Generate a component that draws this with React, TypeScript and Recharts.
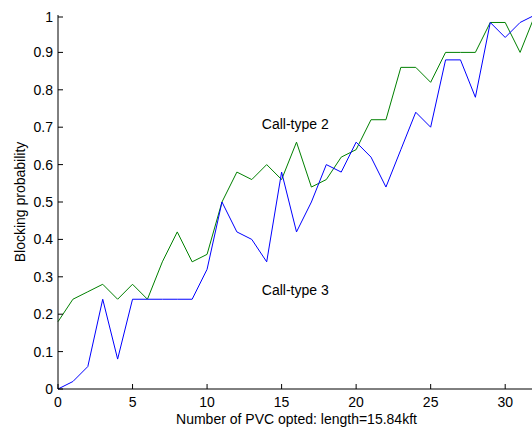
import { LineChart, Line, XAxis, YAxis, ReferenceDot } from "recharts"

// number of PVC opted (x) and blocking probability per call type
const pvcCounts = [
  0, 1, 2, 3, 4, 5, 6, 7, 8, 9, 10, 11, 12, 13, 14, 15, 16,
  17, 18, 19, 20, 21, 22, 23, 24, 25, 26, 27, 28, 29, 30, 31, 32,
]
const callType2 = [
  0.18, 0.24, 0.26, 0.28, 0.24, 0.28, 0.24, 0.34, 0.42, 0.34, 0.36, 0.5, 0.58, 0.56, 0.6, 0.56, 0.66,
  0.54, 0.56, 0.62, 0.64, 0.72, 0.72, 0.86, 0.86, 0.82, 0.9, 0.9, 0.9, 0.98, 0.98, 0.9, 1.0,
]
const callType3 = [
  0, 0.02, 0.06, 0.24, 0.08, 0.24, 0.24, 0.24, 0.24, 0.24, 0.32, 0.5, 0.42, 0.4, 0.34, 0.58, 0.42,
  0.5, 0.6, 0.58, 0.66, 0.62, 0.54, 0.64, 0.74, 0.7, 0.88, 0.88, 0.78, 0.98, 0.94, 0.98, 1.0,
]
const xTicks = [0, 5, 10, 15, 20, 25, 30]
const yTicks = [0, 0.1, 0.2, 0.3, 0.4, 0.5, 0.6, 0.7, 0.8, 0.9, 1]

// where the two curve names sit (data coords)
const label2At = { x: 13.67, y: 0.708 }
const label3At = { x: 13.67, y: 0.264 }

const data = pvcCounts.map((n, i) => ({ n, ct2: callType2[i], ct3: callType3[i] }))

const font = "'Liberation Sans', Arial, Helvetica, sans-serif"

function BottomTick({ x, y, payload }: any) {
  return (
    <g>
      <line x1={x} y1={y} x2={x} y2={y - 5} stroke="#000" />
      <text x={x} y={y + 13} textAnchor="middle" dominantBaseline="central" fontSize={14} fontFamily={font} fill="#000">
        {payload.value}
      </text>
    </g>
  )
}

function LeftTick({ x, y, payload }: any) {
  return (
    <g>
      <line x1={x} y1={y} x2={x + 5} y2={y} stroke="#000" />
      <text x={x - 5} y={y} textAnchor="end" dominantBaseline="central" fontSize={14} fontFamily={font} fill="#000">
        {payload.value}
      </text>
    </g>
  )
}

function TopTick({ x, y }: any) {
  return <line x1={x} y1={y} x2={x} y2={y + 5} stroke="#000" />
}

function RightTick({ x, y }: any) {
  return <line x1={x} y1={y} x2={x - 5} y2={y} stroke="#000" />
}

export default function App() {
  // the figure is cut off on the right, so the plot box runs past the page edge
  return (
    <div style={{ position: "absolute", left: 8, top: 8, width: 524, height: 422, overflow: "hidden" }}>
      <LineChart width={529} height={422} data={data} margin={{ top: 7, right: 2, bottom: 0, left: 0 }}>
        <XAxis
          dataKey="n"
          type="number"
          domain={[0, 32]}
          ticks={xTicks}
          height={41}
          tickSize={0}
          tickMargin={0}
          tickLine={false}
          axisLine={{ stroke: "#000" }}
          tick={<BottomTick />}
          label={{ value: "Number of PVC opted: length=15.84kft", position: "insideBottom", offset: 6, fill: "#000", fontSize: 14, fontFamily: font }}
        />
        <XAxis
          xAxisId="top"
          dataKey="n"
          type="number"
          orientation="top"
          domain={[0, 32]}
          ticks={xTicks}
          height={0}
          tickSize={0}
          tickMargin={0}
          tickLine={false}
          axisLine={{ stroke: "#000" }}
          tick={<TopTick />}
        />
        <YAxis
          type="number"
          domain={[0, 1]}
          ticks={yTicks}
          width={50}
          tickSize={0}
          tickMargin={0}
          tickLine={false}
          axisLine={{ stroke: "#000" }}
          tick={<LeftTick />}
          label={{
            content: ({ viewBox }: any) => {
              const cx = viewBox.x + 12
              const cy = viewBox.y + viewBox.height / 2
              return (
                <text x={cx} y={cy} transform={`rotate(-90 ${cx} ${cy})`} textAnchor="middle" dominantBaseline="central" fontSize={14} fontFamily={font} fill="#000">
                  Blocking probability
                </text>
              )
            },
          }}
        />
        <YAxis
          yAxisId="right"
          type="number"
          orientation="right"
          domain={[0, 1]}
          ticks={yTicks}
          width={0}
          tickSize={0}
          tickMargin={0}
          tickLine={false}
          axisLine={{ stroke: "#000" }}
          tick={<RightTick />}
        />
        <Line
          type="linear"
          dataKey="ct2"
          stroke="#008000"
          strokeWidth={1}
          dot={false}
          activeDot={false}
          isAnimationActive={false}
        />
        <Line
          type="linear"
          dataKey="ct3"
          xAxisId="top"
          yAxisId="right"
          stroke="#0000ff"
          strokeWidth={1}
          dot={false}
          activeDot={false}
          isAnimationActive={false}
        />
        <ReferenceDot
          x={label2At.x}
          y={label2At.y}
          r={0}
          fill="none"
          stroke="none"
          label={{ value: "Call-type 2", position: "right", offset: 0, fill: "#000", fontSize: 14, fontFamily: font }}
        />
        <ReferenceDot
          x={label3At.x}
          y={label3At.y}
          r={0}
          fill="none"
          stroke="none"
          label={{ value: "Call-type 3", position: "right", offset: 0, fill: "#000", fontSize: 14, fontFamily: font }}
        />
      </LineChart>
    </div>
  )
}
